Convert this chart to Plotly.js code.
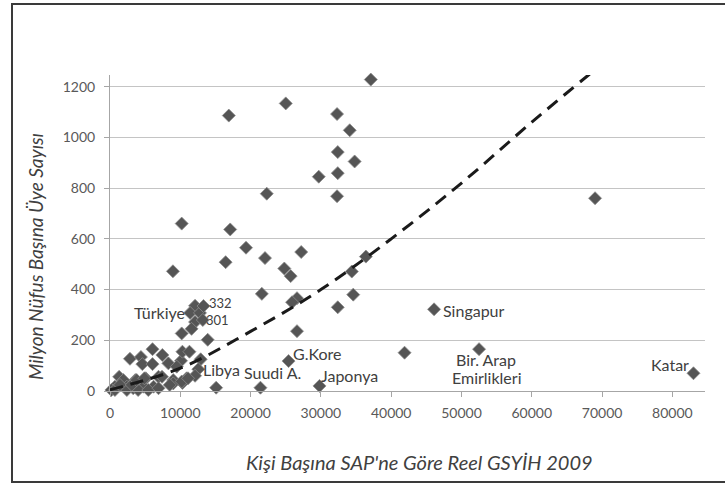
<!DOCTYPE html>
<html>
<head>
<meta charset="utf-8">
<script src="https://cdn.plot.ly/plotly-3.0.1.min.js"></script>
<style>
  html, body { margin: 0; padding: 0; background: #ffffff; }
  #chart { position: absolute; left: 0; top: 0; width: 725px; height: 484px; }
  #frame { position: absolute; left: 11px; top: 3px; width: 720px; height: 476px;
           border-left: 2px solid #3a3a3a; border-top: 2px solid #3a3a3a; border-bottom: 2px solid #3a3a3a;
           pointer-events: none; }
</style>
</head>
<body>
<div id="chart"></div>
<div id="frame"></div>
<script>
// GDP per capita (PPP, 2009) for each country
const gdpX = [
  37100, 25000, 16900, 32300, 34100, 32400, 34800, 29700, 32400, 32300,
  22300, 10200, 17100, 19350, 16450, 22050, 27200, 8950, 24800, 25700,
  34400, 36400, 34600, 32400, 26600, 25900, 26600, 46100, 41900, 25400,
  29800, 52500, 83000, 69000, 21600, 21400, 15100,
  12100, 11400, 12800, 12100, 13200, 10200, 11600, 13900, 13300,
  2840, 4400, 6050, 7450, 4600, 6050, 8300, 10100, 10300, 11300,
  12900, 12560, 9500,
  1300, 1900, 3600, 5100, 6900, 9000, 10900, 12100, 10300, 9000,
  6200, 4750, 3300, 2400, 700, 200, 700, 2400, 4000, 5450,
  6900, 8500, 1420, 3100, 7400, 10200, 11100, 3800, 4900
];
// members per million population
const membersY = [
  1228, 1134, 1086, 1092, 1028, 942, 905, 845, 859, 768,
  778, 660, 637, 565, 508, 524, 548, 472, 483, 453,
  471, 530, 380, 330, 366, 350, 236, 322, 151, 118,
  20, 165, 70, 760, 383, 13, 13,
  336, 308, 308, 272, 280, 227, 245, 202, 335,
  127, 134, 165, 142, 106, 106, 109, 119, 155, 155,
  125, 86, 96,
  56, 43, 43, 50, 56, 43, 50, 60, 32, 30,
  17, 17, 11, 17, 17, 4, 4, 4, 4, 4,
  11, 24, 24, 24, 56, 37, 50, 43, 50
];
// dashed trend line
const trendX = [0, 10000, 20000, 30000, 40000, 50000, 60000, 70000];
const trendY = [5, 90, 235, 400, 600, 820, 1060, 1290];

// country labels
const labelText = ["Türkiye", "332", "301", "Libya", "Suudi A.", "G.Kore", "Japonya", "Singapur", "Bir. Arap", "Emirlikleri", "Katar"];
const labelX = [10810, 13940, 13510, 13090, 18920, 25890, 29870, 47230, 53490, 53490, 82500];
const labelY = [311, 346, 279, 83, 71, 146, 63, 319, 126, 55, 106];
const labelSize = [16, 13, 13, 16, 16, 16, 16, 16, 16, 16, 16];
const labelAnchor = ["right", "left", "left", "left", "left", "left", "left", "left", "center", "center", "right"];

const xTitle = "Kişi Başına SAP'ne Göre Reel GSYİH 2009";
const yTitle = "Milyon Nüfus Başına Üye Sayısı";

const FONT = "Lato, 'Open Sans', sans-serif";

const traces = [
  {
    x: gdpX, y: membersY, type: "scatter", mode: "markers",
    marker: { symbol: "diamond", size: 10, color: "#555555", line: { color: "#8c8c8c", width: 0.8 } },
    hoverinfo: "skip", showlegend: false, cliponaxis: false
  },
  {
    x: trendX, y: trendY, type: "scatter", mode: "lines",
    line: { color: "#1a1a1a", width: 3, dash: "13px,8px", shape: "spline" },
    hoverinfo: "skip", showlegend: false
  }
];

const annotations = labelText.map((t, i) => ({
  x: labelX[i], y: labelY[i], xref: "x", yref: "y", text: t, showarrow: false,
  xanchor: labelAnchor[i], yanchor: "middle", borderpad: 0,
  font: { family: FONT, size: labelSize[i], color: "#404040" }
}));
annotations.push({
  x: 0.521, y: -0.2247, xref: "paper", yref: "paper", text: xTitle, showarrow: false,
  xanchor: "center", yanchor: "middle",
  font: { family: FONT, size: 20, color: "#404040", style: "italic" }
});
annotations.push({
  x: -0.126, y: 0.424, xref: "paper", yref: "paper", text: yTitle, showarrow: false,
  xanchor: "center", yanchor: "middle", textangle: -90,
  font: { family: FONT, size: 19, color: "#404040", style: "italic" }
});

const layout = {
  width: 725, height: 484,
  margin: { l: 110, r: 20, t: 75, b: 93 },
  paper_bgcolor: "#ffffff", plot_bgcolor: "#ffffff",
  showlegend: false,
  xaxis: {
    range: [0, 84640], tick0: 0, dtick: 10000, tickformat: "d", showgrid: false, zeroline: false,
    showline: true, linecolor: "#a6a6a6", linewidth: 1,
    ticks: "outside", ticklen: 5, tickcolor: "#a6a6a6", ticklabelstandoff: 4,
    tickfont: { family: FONT, size: 14, color: "#595959" }, fixedrange: true
  },
  yaxis: {
    range: [0, 1246], tick0: 0, dtick: 200, tickformat: "d", showgrid: true, gridcolor: "#c4c4c4", gridwidth: 1,
    zeroline: false, showline: true, linecolor: "#a6a6a6", linewidth: 1,
    ticks: "outside", ticklen: 5, tickcolor: "#a6a6a6", ticklabelstandoff: 6,
    tickfont: { family: FONT, size: 14, color: "#595959" }, fixedrange: true
  },
  annotations: annotations
};

Plotly.newPlot("chart", traces, layout, { displayModeBar: false, staticPlot: true });
</script>
</body>
</html>
